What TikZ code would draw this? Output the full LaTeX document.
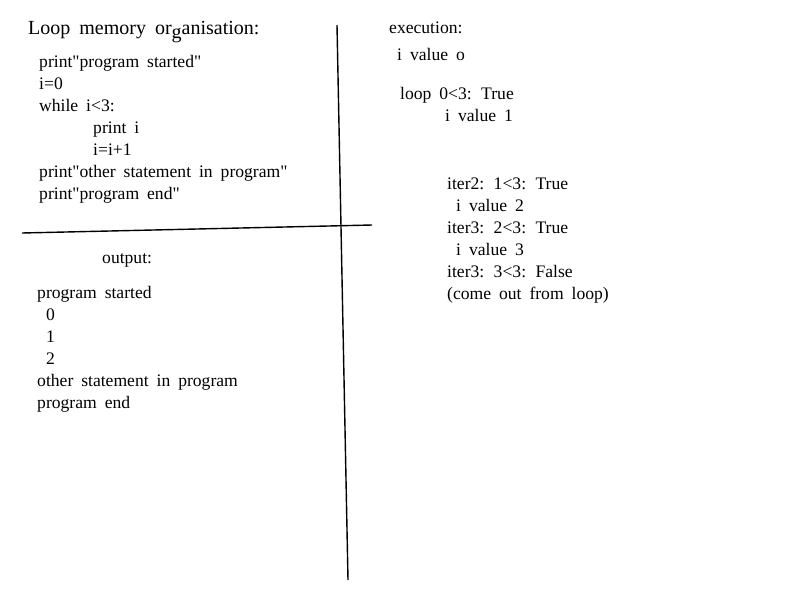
\documentclass[tikz,border=0pt]{standalone}
\usepackage{fontspec}
\newfontfamily\tnr[WordSpace=1.8]{Liberation Serif}
\begin{document}
\begin{tikzpicture}[x=1pt,y=-1pt,
  txt/.style={anchor=base west,inner sep=0pt,font=\tnr\fontsize{17.6}{20}\selectfont},
  ttl/.style={anchor=base west,inner sep=0pt,font=\tnr\fontsize{20}{24}\selectfont},
  rule/.style={line width=1.4pt}]
\useasboundingbox (0,0) rectangle (800,600);
\node[ttl] (title) at (28,34) {Loop memory or\raisebox{-4pt}{g}anisation:};
\node[txt] (c1) at (39,67) {print"program started"};
\node[txt] (c2) at (39,89) {i=0};
\node[txt] (c3) at (39,111) {while i<3:};
\node[txt] (c4) at (93,133) {print i};
\node[txt] (c5) at (93,155) {i=i+1};
\node[txt] (c6) at (39,177) {print"other statement in program"};
\node[txt] (c7) at (39,199) {print"program end"};
\draw[rule] (337,25) -- (348,580);
\draw[rule] (22,233) -- (372,225);
\node[txt] (out) at (102,263) {output:};
\node[txt] (o1) at (37,298) {program started};
\node[txt] (o2) at (46,320) {0};
\node[txt] (o3) at (46,342) {1};
\node[txt] (o4) at (46,364) {2};
\node[txt] (o5) at (37,386) {other statement in program};
\node[txt] (o6) at (37,408) {program end};
\node[txt] (e0) at (389,33) {execution:};
\node[txt] (e1) at (397,60) {i value o};
\node[txt] (e2) at (400,99) {loop 0<3: True};
\node[txt] (e3) at (445,121) {i value 1};
\node[txt] (e4) at (447,189) {iter2: 1<3: True};
\node[txt] (e5) at (456,211) {i value 2};
\node[txt] (e6) at (447,233) {iter3: 2<3: True};
\node[txt] (e7) at (456,255) {i value 3};
\node[txt] (e8) at (447,277) {iter3: 3<3: False};
\node[txt] (e9) at (447,299) {(come out from loop)};
\end{tikzpicture}
\end{document}
